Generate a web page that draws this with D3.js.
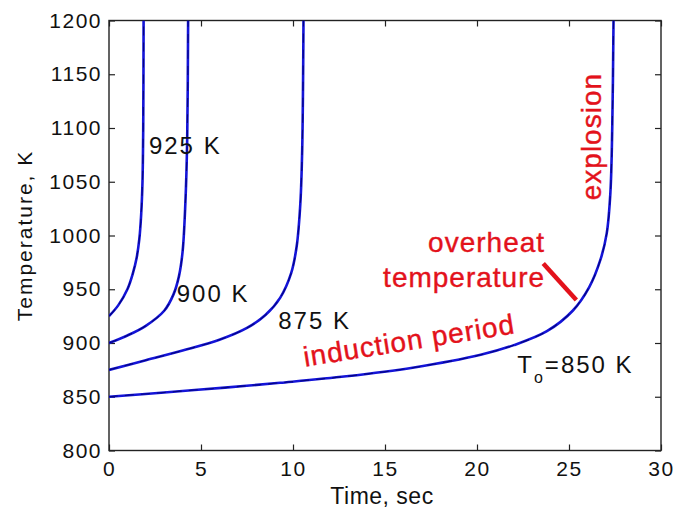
<!DOCTYPE html>
<html>
<head>
<meta charset="utf-8">
<script src="https://cdn.jsdelivr.net/npm/d3@7"></script>
<style>
  body { margin: 0; background: #fff; }
  text { font-family: "Liberation Sans", Arial, sans-serif; }
</style>
</head>
<body>
<div id="chart"></div>
<script>
// initial temperature curves, time (s) vs temperature (K)
const t925 = [0, 0.5, 1.0, 1.3, 1.5, 1.65, 1.75, 1.82, 1.86, 1.88];
const T925 = [925, 935, 950, 965, 979, 997, 1020, 1050, 1100, 1200];
const t900 = [0, 1, 2, 3, 3.5, 3.8, 4.0, 4.15, 4.25, 4.3];
const T900 = [900, 907, 916, 930, 945, 962, 985, 1030, 1090, 1200];
const t875 = [0, 2, 4, 6, 7.5, 8.5, 9.3, 9.9, 10.2, 10.4, 10.5, 10.57];
const T875 = [875, 884, 893, 903, 914, 926, 942, 965, 990, 1030, 1080, 1200];
const t850 = [0, 3, 6.3, 9.3, 12.9, 16.5, 20.2, 22, 23.8, 25.2, 26.1, 26.7, 27.05, 27.25, 27.35, 27.42];
const T850 = [850, 854, 858.5, 863, 869, 877, 889, 898, 911, 930, 952, 977, 1002, 1040, 1100, 1200];

const xTicks = [0, 5, 10, 15, 20, 25, 30];
const yTicks = [800, 850, 900, 950, 1000, 1050, 1100, 1150, 1200];

// curve labels: [text, t, T]
const curveLabels = [
  ['925 K', 2.17, 1076],
  ['900 K', 3.68, 938],
  ['875 K', 9.2, 913]
];
// overheat marker line, [t, T]
const overheatLine = [[23.6, 974], [25.4, 940]];

const w = 680, h = 509;
const m = {left: 109, right: 19, top: 20.5, bottom: 58.5};

const svg = d3.select('#chart').append('svg').attr('width', w).attr('height', h);

const x = d3.scaleLinear().domain([0, 30]).range([m.left, w - m.right]);
const y = d3.scaleLinear().domain([800, 1200]).range([h - m.bottom, m.top]);

svg.append('clipPath').attr('id', 'clip')
  .append('rect')
  .attr('x', m.left).attr('y', m.top)
  .attr('width', w - m.left - m.right).attr('height', h - m.top - m.bottom);

// axes with inward ticks
const axisColor = '#222';
function styleAxis(g){
  g.select('.domain').remove();
  g.selectAll('line').attr('stroke', axisColor).attr('stroke-width', 1.2);
  g.selectAll('text').attr('fill', '#111').style('font-size', '21px').style('letter-spacing', '1.5px');
}
svg.append('g').attr('transform', `translate(0,${h - m.bottom})`)
  .call(d3.axisBottom(x).tickValues(xTicks).tickFormat(d3.format('d')).tickSizeInner(-6).tickSizeOuter(0).tickPadding(11))
  .call(styleAxis);
svg.append('g').attr('transform', `translate(0,${m.top})`)
  .call(d3.axisTop(x).tickValues(xTicks).tickSizeInner(-6).tickSizeOuter(0).tickFormat(''))
  .call(styleAxis);
svg.append('g').attr('transform', `translate(${m.left},0)`)
  .call(d3.axisLeft(y).tickValues(yTicks).tickFormat(d3.format('d')).tickSizeInner(-6).tickSizeOuter(0).tickPadding(7))
  .call(styleAxis);
svg.append('g').attr('transform', `translate(${w - m.right},0)`)
  .call(d3.axisRight(y).tickValues(yTicks).tickSizeInner(-6).tickSizeOuter(0).tickFormat(''))
  .call(styleAxis);

svg.append('rect')
  .attr('x', m.left).attr('y', m.top)
  .attr('width', w - m.left - m.right).attr('height', h - m.top - m.bottom)
  .attr('fill', 'none').attr('stroke', axisColor).attr('stroke-width', 1.4);

// curves
const series = [[t925, T925], [t900, T900], [t875, T875], [t850, T850]];
const line = d3.line().x(d => x(d[0])).y(d => y(d[1])).curve(d3.curveCatmullRom.alpha(0.5));
const plot = svg.append('g').attr('clip-path', 'url(#clip)');
series.forEach(s => {
  const pts = s[0].map((t, i) => [t, s[1][i]]);
  plot.append('path').datum(pts).attr('d', line)
    .attr('fill', 'none').attr('stroke', '#1414d8').attr('stroke-width', 2.6);
  plot.append('path').datum(pts).attr('d', line)
    .attr('fill', 'none').attr('stroke', '#00006a').attr('stroke-width', 1.1)
    .attr('stroke-dasharray', '9 7').attr('opacity', 0.8);
});

// curve labels
curveLabels.forEach(l => {
  svg.append('text').attr('x', x(l[1])).attr('y', y(l[2]))
    .style('font-size', '24px').style('letter-spacing', '2px').attr('fill', '#111')
    .text(l[0]);
});
const t0 = svg.append('text').attr('x', x(22.19)).attr('y', y(872.4))
  .style('font-size', '24px').style('letter-spacing', '2px').attr('fill', '#111');
t0.append('tspan').text('T');
t0.append('tspan').attr('dy', 10).style('font-size', '16px').text('o');
t0.append('tspan').attr('dy', -10).text('=850 K');

// red annotations
const red = '#e3121b';
function redText(txt){
  return svg.append('text').attr('fill', red).style('font-size', '28px')
    .style('letter-spacing', '1px').attr('stroke', red).attr('stroke-width', 0.4).text(txt);
}
redText('overheat').attr('x', x(23.7)).attr('y', y(985)).attr('text-anchor', 'end');
redText('temperature').attr('x', x(23.7)).attr('y', y(952)).attr('text-anchor', 'end');
redText('induction period')
  .attr('transform', `translate(${x(10.65)},${y(878)}) rotate(-9)`);
redText('explosion').attr('text-anchor', 'middle')
  .attr('transform', `translate(${x(26.74)},${y(1092)}) rotate(-90)`);

svg.append('line')
  .attr('x1', x(overheatLine[0][0])).attr('y1', y(overheatLine[0][1]))
  .attr('x2', x(overheatLine[1][0])).attr('y2', y(overheatLine[1][1]))
  .attr('stroke', red).attr('stroke-width', 4.5);

// axis titles
svg.append('text').attr('x', 382).attr('y', 504).attr('text-anchor', 'middle')
  .style('font-size', '23px').style('letter-spacing', '0.5px').attr('fill', '#111')
  .text('Time, sec');
svg.append('text').attr('text-anchor', 'middle')
  .attr('transform', `translate(31.5,${(m.top + h - m.bottom) / 2}) rotate(-90)`)
  .style('font-size', '21px').style('letter-spacing', '2px').attr('fill', '#111')
  .text('Temperature, K');
</script>
</body>
</html>
